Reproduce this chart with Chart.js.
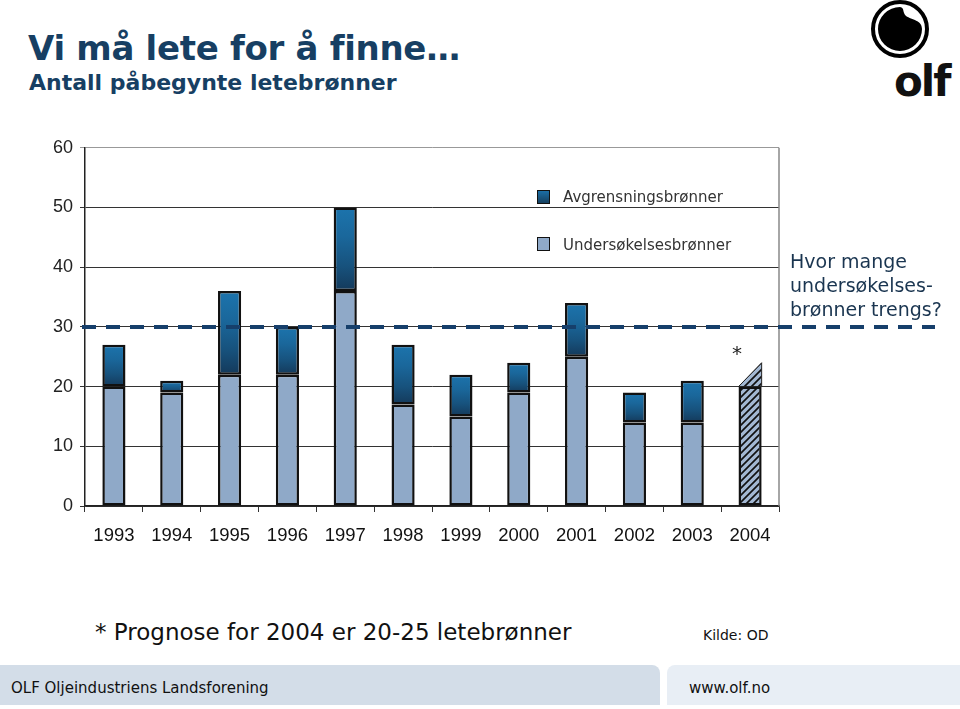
<!DOCTYPE html>
<html>
<head>
<meta charset="utf-8">
<script src="https://cdn.jsdelivr.net/npm/chart.js@4/dist/chart.umd.min.js"></script>
<style>
  body { margin: 0; width: 960px; height: 709px; background: #fff; position: relative; overflow: hidden; font-family: "DejaVu Sans", Verdana, sans-serif; }
  .abs { position: absolute; white-space: nowrap; }
  #title { left: 28px; top: 28px; font-weight: bold; font-size: 34px; color: #173f63; letter-spacing: -0.3px; }
  #subtitle { left: 29px; top: 70px; font-weight: bold; font-size: 22px; color: #173f63; }
  #wrap { position: absolute; left: 0; top: 130px; width: 960px; height: 430px; }
  .leg { font-size: 15px; color: #333; }
  .sw { position: absolute; width: 11px; height: 12px; border: 1px solid #111; }
  #question { left: 790px; top: 249px; font-size: 19px; line-height: 24px; color: #1a3550; }
  #note { left: 95px; top: 619px; font-size: 23px; color: #111; }
  #source { left: 703px; top: 627px; font-size: 14px; color: #111; }
  #foot1 { left: 0; top: 665px; width: 660px; height: 40px; background: #d3dde8; border-top-right-radius: 8px; }
  #foot2 { left: 667px; top: 665px; width: 293px; height: 40px; background: #e8eef5; border-top-left-radius: 8px; }
  .foottxt { font-size: 15px; color: #111; top: 679px; }
  #star { font-size: 20px; color: #222; }
</style>
</head>
<body>
<div id="title" class="abs">Vi må lete for å finne…</div>
<div id="subtitle" class="abs">Antall påbegynte letebrønner</div>

<svg class="abs" style="left:866px;top:0px" width="94" height="104" viewBox="0 0 94 104">
  <circle cx="34" cy="29" r="27" fill="#fff" stroke="#000" stroke-width="4"/>
  <path d="M34 7 A22 22 0 1 0 56 29 C56 20 46 20 40 16 C36 12 39 8 34 7 Z" fill="#000"/>
  <text x="28" y="96" font-family="DejaVu Sans" font-weight="bold" font-size="42" fill="#111" letter-spacing="-2">olf</text>
</svg>

<div id="wrap"><canvas id="chart"></canvas></div>

<div class="sw" style="left:537px;top:190px;background:linear-gradient(#1b6ea6,#16405f);"></div>
<div class="abs leg" style="left:563px;top:188px;">Avgrensningsbrønner</div>
<div class="sw" style="left:537px;top:237px;background:#8fa9c8;"></div>
<div class="abs leg" style="left:563px;top:236px;">Undersøkelsesbrønner</div>

<div id="question" class="abs">Hvor mange<br>undersøkelses-<br>brønner trengs?</div>
<div id="star" class="abs">*</div>

<div id="note" class="abs">* Prognose for 2004 er 20-25 letebrønner</div>
<div id="source" class="abs">Kilde: OD</div>
<div id="foot1" class="abs"></div>
<div id="foot2" class="abs"></div>
<div class="abs foottxt" style="left:11px;">OLF Oljeindustriens Landsforening</div>
<div class="abs foottxt" style="left:689px;">www.olf.no</div>

<script>
const years = ['1993', '1994', '1995', '1996', '1997', '1998', '1999', '2000', '2001', '2002', '2003', '2004'];
const undersokelse = [20, 19, 22, 22, 36, 17, 15, 19, 25, 14, 14, null];
const avgrensning = [7, 2, 14, 8, 14, 10, 7, 5, 9, 5, 7, null];
const prognose = [null, null, null, null, null, null, null, null, null, null, null, 20];
const prognoseRange = [20, 24];
const targetLine = 30;
const yTicks = [0, 10, 20, 30, 40, 50, 60];

function hatchPattern() {
  const c = document.createElement('canvas');
  c.width = 7; c.height = 7;
  const g = c.getContext('2d');
  g.fillStyle = '#a3b8d3';
  g.fillRect(0, 0, 7, 7);
  g.strokeStyle = '#111';
  g.lineWidth = 1.7;
  g.beginPath();
  g.moveTo(-1, 8); g.lineTo(8, -1);
  g.moveTo(-4, 4); g.lineTo(4, -4);
  g.moveTo(3, 11); g.lineTo(11, 3);
  g.stroke();
  return g.createPattern(c, 'repeat');
}

function avgGradient(context) {
  const chart = context.chart;
  const i = context.dataIndex;
  if (!chart.chartArea || i === undefined || avgrensning[i] == null) return '#1b5f8f';
  const y = chart.scales.y;
  const top = y.getPixelForValue(undersokelse[i] + avgrensning[i]);
  const bottom = y.getPixelForValue(undersokelse[i]);
  if (!isFinite(top) || !isFinite(bottom)) return '#1b5f8f';
  const grad = chart.ctx.createLinearGradient(0, top, 0, bottom);
  grad.addColorStop(0, '#1c74ad');
  grad.addColorStop(0.35, '#1a679b');
  grad.addColorStop(0.7, '#17527d');
  grad.addColorStop(1, '#14395a');
  return grad;
}

const extras = {
  id: 'extras',
  afterDatasetsDraw(chart) {
    const ctx = chart.ctx;
    const area = chart.chartArea;
    const y = chart.scales.y;
    ctx.save();
    // right frame line
    ctx.strokeStyle = '#888';
    ctx.lineWidth = 1.5;
    ctx.beginPath();
    ctx.moveTo(area.right, area.top);
    ctx.lineTo(area.right, area.bottom);
    ctx.stroke();

    // forecast triangle on top of 2004 bar
    const bar = chart.getDatasetMeta(2).data[11];
    const half = bar.width / 2;
    const x0 = bar.x - half, x1 = bar.x + half;
    const yLow = y.getPixelForValue(prognoseRange[0]);
    const yHigh = y.getPixelForValue(prognoseRange[1]);
    ctx.beginPath();
    ctx.moveTo(x0, yLow);
    ctx.lineTo(x1, yHigh);
    ctx.lineTo(x1, yLow);
    ctx.closePath();
    ctx.fillStyle = hatchPattern();
    ctx.fill();
    ctx.strokeStyle = '#222';
    ctx.lineWidth = 1;
    ctx.stroke();

    const star = document.getElementById('star');
    star.style.left = (bar.x - 18) + 'px';
    star.style.top = (130 + yHigh - 22) + 'px';

    // target dashed line
    const yt = Math.round(y.getPixelForValue(targetLine));
    ctx.strokeStyle = '#163f6b';
    ctx.lineWidth = 4;
    ctx.setLineDash([14, 10]);
    ctx.beginPath();
    ctx.moveTo(area.left - 3, yt);
    ctx.lineTo(chart.width - 25, yt);
    ctx.stroke();
    ctx.restore();
  }
};

new Chart(document.getElementById('chart'), {
  type: 'bar',
  data: {
    labels: years,
    datasets: [
      {
        label: 'Undersøkelsesbrønner',
        data: undersokelse,
        backgroundColor: '#8fa9c8',
        borderColor: '#111',
        borderWidth: 2.5,
        borderSkipped: false
      },
      {
        label: 'Avgrensningsbrønner',
        data: avgrensning,
        backgroundColor: avgGradient,
        borderColor: '#111',
        borderWidth: 2.5,
        borderSkipped: false
      },
      {
        label: 'Prognose',
        data: prognose,
        backgroundColor: hatchPattern(),
        borderColor: '#111',
        borderWidth: 2.5,
        borderSkipped: false
      }
    ]
  },
  options: {
    responsive: true,
    maintainAspectRatio: false,
    animation: false,
    layout: { padding: { left: 0, right: 181, top: 16, bottom: 0 } },
    datasets: { bar: { categoryPercentage: 1, barPercentage: 0.4 } },
    scales: {
      x: {
        stacked: true,
        offset: true,
        afterFit: (scale) => { scale.height = 54; },
        grid: { display: true, drawOnChartArea: false, offset: true, tickLength: 6, color: '#333' },
        border: { display: true, color: '#222', width: 1.5 },
        ticks: { color: '#111', font: { family: 'Liberation Sans, Arial', size: 18.5 }, padding: 13, maxRotation: 0 }
      },
      y: {
        stacked: true,
        min: 0,
        max: 60,
        afterFit: (scale) => { scale.width = 85; },
        afterBuildTicks: (scale) => { scale.ticks = yTicks.map(v => ({ value: v })); },
        grid: {
          color: (c) => c.tick && c.tick.value === 60 ? '#999' : '#333',
          lineWidth: 1,
          tickLength: 5
        },
        border: { display: true, color: '#222', width: 1.5 },
        ticks: { color: '#222', font: { family: 'Liberation Sans, Arial', size: 18 }, padding: 7 }
      }
    },
    plugins: {
      legend: { display: false },
      tooltip: { enabled: false }
    }
  },
  plugins: [extras]
});
</script>
</body>
</html>
